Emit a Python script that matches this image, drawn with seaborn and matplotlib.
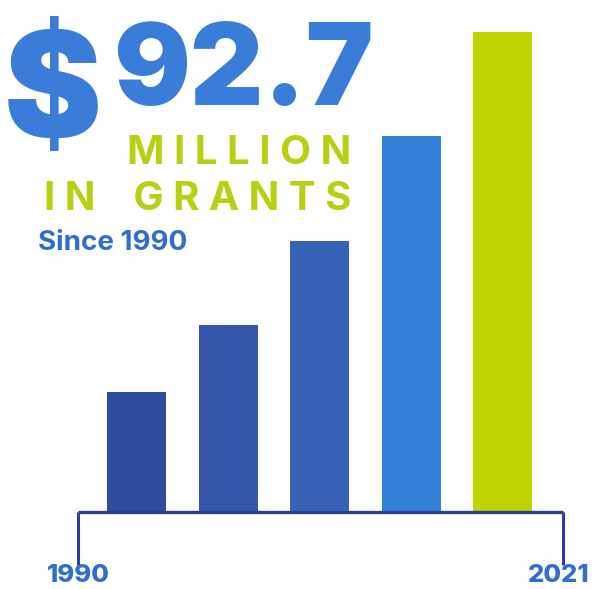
import matplotlib
matplotlib.use("Agg")
import matplotlib.pyplot as plt
import seaborn as sns
import pandas as pd

# ---- data ----
periods = ["1990", "1998", "2005", "2013", "2021"]
cumulative_grants = [23.2, 36.1, 52.3, 72.6, 92.7]   # $ millions (estimated)
bar_colors = ["#2F4B9E", "#3556AA", "#3862B6", "#3380D8", "#BDD400"]
axis_labels = ["1990", "2021"]

W, H = 596, 589
sns.set_theme(style="white")
plt.rcParams["font.family"] = ["Inter", "DejaVu Sans"]

fig = plt.figure(figsize=(W / 100, H / 100), dpi=100)
fig.patch.set_facecolor("white")

def px(x, y):
    return x / W, 1 - y / H

# axes: x from 78px to 563px, baseline at 512px
left, right = 78, 563
base = 512
ymax = 95
px_per_unit = 480 / 92.7
height_px = ymax * px_per_unit
ax = fig.add_axes([left / W, (H - base) / H, (right - left) / W, height_px / H])
ax.set_facecolor("none")

df = pd.DataFrame({"period": periods, "value": cumulative_grants})
sns.barplot(data=df, x="period", y="value", hue="period", palette=bar_colors,
            legend=False, width=0.645, saturation=1, linewidth=0, ax=ax)

ax.set_xlim(-0.64, 4.66)
ax.set_ylim(0, ymax)
for s in ["top", "right", "left"]:
    ax.spines[s].set_visible(False)
navy = "#2B3F93"
ax.spines["bottom"].set_color(navy)
ax.spines["bottom"].set_linewidth(2.4)
ax.spines["bottom"].set_capstyle("butt")
ax.set_yticks([])
ax.set_xticks([-0.64, 4.66])
ax.set_xticklabels(["", ""])
ax.tick_params(axis="x", direction="out", length=38, width=2.2, color=navy,
               pad=0, bottom=True)
ax.set_xlabel("")
ax.set_ylabel("")

year_color = "#2F6FCB"
fig.text(*px(78, 582), axis_labels[0], fontsize=18.5, fontweight="heavy",
         color=year_color, ha="center", va="baseline")
fig.text(*px(559, 582), axis_labels[1], fontsize=18.5, fontweight="heavy",
         color=year_color, ha="center", va="baseline")

blue = "#3A7DD8"
lime = "#B8CF12"
# big headline
fig.text(*px(4, 138), "$", fontsize=106, fontweight="black", color=blue,
         ha="left", va="baseline")
fig.text(*px(113, 105), "92.7", fontsize=82, fontweight="black", color=blue,
         ha="left", va="baseline")
fig.text(*px(351, 164), "M I L L I O N", fontsize=29, fontweight="bold",
         color=lime, ha="right", va="baseline")
fig.text(*px(351, 210), "I N    G R A N T S", fontsize=29, fontweight="bold",
         color=lime, ha="right", va="baseline")
fig.text(*px(38, 250), "Since 1990", fontsize=20, fontweight="bold",
         color=year_color, ha="left", va="baseline")

fig.savefig("out.png", dpi=100, facecolor="white")
